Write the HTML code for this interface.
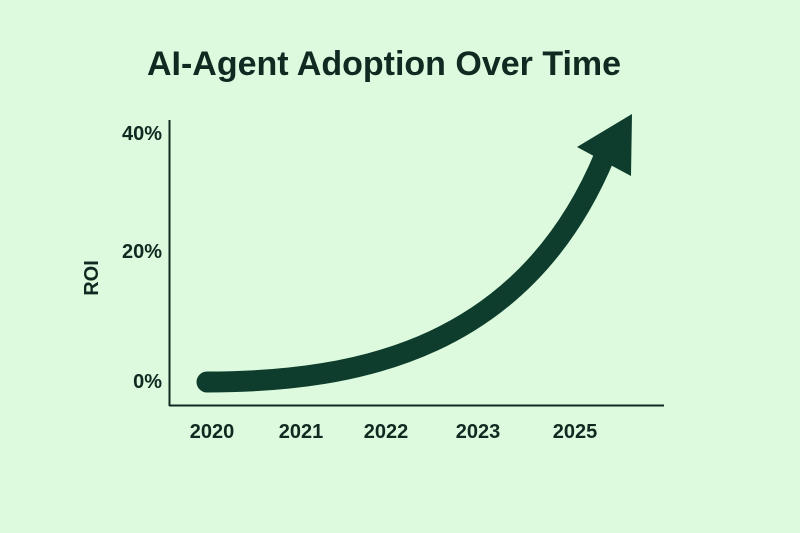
<!DOCTYPE html>
<html><head><style>
body{margin:0;width:800px;height:533px;background:#ddfadf;overflow:hidden}
svg{display:block}
text{font-family:"Liberation Sans",sans-serif;fill:#0f2a20}
</style></head><body>
<svg width="800" height="533" viewBox="0 0 800 533">
<rect width="800" height="533" fill="#ddfadf"/>
<text x="384" y="75" font-size="34" font-weight="bold" text-anchor="middle">AI-Agent Adoption Over Time</text>
<line x1="169.5" y1="120" x2="169.5" y2="406" stroke="#0f2a20" stroke-width="2"/>
<line x1="169" y1="405.5" x2="664" y2="405.5" stroke="#0f2a20" stroke-width="2"/>
<g font-size="20" font-weight="bold" text-anchor="end">
<text x="162" y="140">40%</text>
<text x="162" y="258">20%</text>
<text x="162" y="388">0%</text>
</g>
<text transform="translate(98,278) rotate(-90)" font-size="20" font-weight="bold" text-anchor="middle">ROI</text>
<g font-size="20" font-weight="bold" text-anchor="middle">
<text x="212" y="438">2020</text>
<text x="301" y="438">2021</text>
<text x="386" y="438">2022</text>
<text x="478" y="438">2023</text>
<text x="575" y="438">2025</text>
</g>
<path d="M207,382 C360,382 525,348 605,155" fill="none" stroke="#0e3d2d" stroke-width="21" stroke-linecap="round"/>
<polygon points="632,114 577,147 631,176" fill="#0e3d2d"/>
</svg>
</body></html>
